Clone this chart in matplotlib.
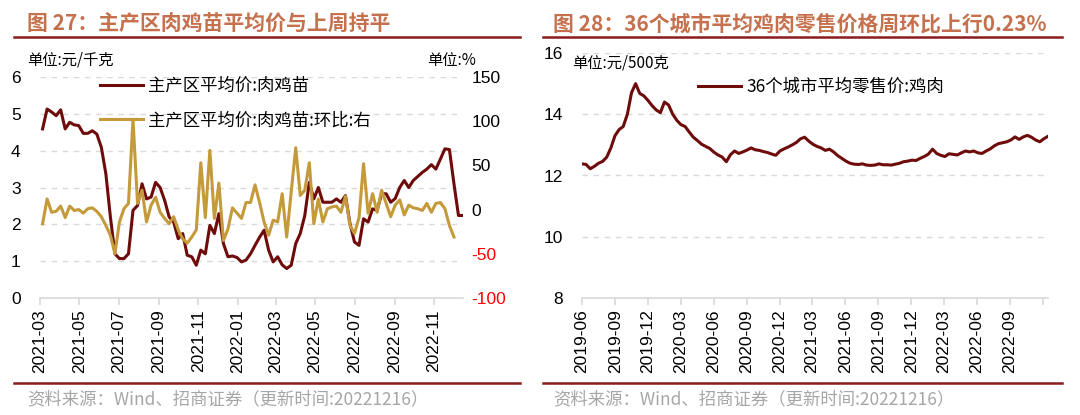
import pandas as pd
import matplotlib.pyplot as plt
import matplotlib.dates as mdates
from matplotlib.lines import Line2D

plt.rcParams['font.family'] = ['Liberation Sans', 'Noto Sans CJK SC', 'DejaVu Sans']
plt.rcParams['axes.unicode_minus'] = False

# 图27: 主产区肉鸡苗平均价 (元/千克) 及环比 (%), 周度
chick_price = [
    4.59, 5.13, 5.05, 4.95, 5.11, 4.59, 4.77, 4.70, 4.68, 4.47,
    4.47, 4.54, 4.45, 4.09, 3.37, 2.20, 1.20, 1.07, 1.07, 1.20,
    2.38, 2.51, 3.10, 2.69, 2.74, 3.14, 3.00, 2.65, 2.20, 2.06,
    1.61, 1.75, 1.16, 1.12, 0.89, 1.30, 1.20, 1.97, 1.75, 2.29,
    1.48, 1.12, 1.14, 1.10, 0.98, 1.03, 1.20, 1.43, 1.65, 1.84,
    1.30, 0.98, 1.12, 0.90, 0.80, 0.89, 1.48, 1.75, 2.24, 3.14,
    2.69, 3.00, 2.60, 2.60, 2.60, 2.69, 2.60, 2.78, 2.02, 1.52,
    1.43, 2.15, 2.06, 2.42, 2.38, 2.83, 2.83, 2.60, 2.70, 3.00,
    3.19, 3.00, 3.19, 3.30, 3.41, 3.50, 3.62, 3.50, 3.77, 4.05,
    4.03, 3.10, 2.24, 2.24,
]
chick_wow = [
    -16, 12, -3, -2, 4, -9, 4, -1, 0, -4,
    1, 2, -2, -8, -18, -29, -50, -14, 1, 7,
    102, 7, 22, -14, 5, 14, -3, -10, -16, -8,
    -23, -33, -38, -31, -23, 53, -9, 67, -10, 30,
    -35, -22, 2, -4, -10, 8, 8, 28, 8, -14,
    -29, -12, -14, 18, -31, 20, 70, 16, 22, 53,
    -16, 12, -14, 1, 3, 4, -3, 15, -18, -27,
    -9, 52, -4, 18, -3, 22, 7, -8, 5, 11,
    -6, 5, 2, 1, -1, 7, -3, 7, 8, 1,
    -18, -31,
]
chick_dates = pd.date_range(end='2022-12-16', periods=len(chick_price), freq='7D')

# 图28: 36个城市平均零售价:鸡肉 (元/500克)
retail_price = [
    12.38, 12.36, 12.22, 12.30, 12.40, 12.46, 12.60, 12.90, 13.30, 13.50,
    13.60, 14.00, 14.70, 15.00, 14.68, 14.60, 14.45, 14.28, 14.14, 14.05,
    14.40, 14.30, 14.00, 13.80, 13.66, 13.60, 13.42, 13.25, 13.14, 13.02,
    12.95, 12.88, 12.76, 12.67, 12.60, 12.45, 12.68, 12.80, 12.72, 12.77,
    12.83, 12.90, 12.84, 12.82, 12.78, 12.75, 12.70, 12.66, 12.80, 12.87,
    12.93, 13.00, 13.08, 13.20, 13.25, 13.12, 13.02, 12.95, 12.90, 12.82,
    12.86, 12.77, 12.65, 12.56, 12.47, 12.40, 12.37, 12.36, 12.38, 12.34,
    12.33, 12.34, 12.38, 12.35, 12.35, 12.34, 12.37, 12.40, 12.45, 12.47,
    12.50, 12.49, 12.56, 12.62, 12.70, 12.86, 12.72, 12.66, 12.62, 12.71,
    12.69, 12.67, 12.74, 12.80, 12.77, 12.80, 12.74, 12.72, 12.80, 12.87,
    12.97, 13.04, 13.07, 13.10, 13.16, 13.26, 13.18, 13.26, 13.31, 13.25,
    13.16, 13.10, 13.20, 13.28,
]
retail_dates = pd.date_range('2019-06-01', '2022-12-16', periods=len(retail_price))

DARK = '#6e0b0b'
GOLD = '#c49a3a'
TITLE = '#c5714d'
RULE = '#8b1c1c'
GRID = '#d9d9d9'
FOOT = '#a6a6a6'
CJK = ['Noto Sans CJK SC', 'Liberation Sans']

fig = plt.figure(figsize=(10.8, 4.15), dpi=100)


def px(x, y):
    return x / 1080, 1 - y / 415


def style_axis(ax):
    for s in ['top', 'left', 'right']:
        ax.spines[s].set_visible(False)
    ax.spines['bottom'].set_color(GRID)
    ax.spines['bottom'].set_linewidth(1.2)
    ax.grid(axis='y', color=GRID, linestyle=(0, (4, 4)), linewidth=1)
    ax.tick_params(axis='y', length=0, labelsize=12.5)
    ax.tick_params(axis='x', length=5, color=GRID, width=1.2, labelsize=12.5,
                   labelrotation=90, pad=3)
    ax.set_axisbelow(True)


# ---- 左图 ----
ax1 = fig.add_axes([40 / 1080, 1 - 298 / 415, 423 / 1080, 221 / 415])
style_axis(ax1)
ax1.plot(chick_dates, chick_price, color=DARK, lw=2.2, label='主产区平均价:肉鸡苗')
ax1.set_ylim(0, 6)
ax1.set_yticks(range(0, 7))
ax1.tick_params(axis='y', pad=14)
ax1.set_xlim(pd.Timestamp('2021-03-01'), pd.Timestamp('2022-12-16'))
ax1.xaxis.set_major_locator(mdates.MonthLocator(bymonth=[1, 3, 5, 7, 9, 11]))
ax1.xaxis.set_major_formatter(mdates.DateFormatter('%Y-%m'))

ax2 = ax1.twinx()
for s in ['top', 'left', 'right', 'bottom']:
    ax2.spines[s].set_visible(False)
ax2.plot(chick_dates[:len(chick_wow)], chick_wow, color=GOLD, lw=2.2,
         label='主产区平均价:肉鸡苗:环比:右')
ax2.set_ylim(-100, 150)
ax2.set_yticks(range(-100, 151, 50))
ax2.tick_params(axis='y', length=0, labelsize=12.5, pad=6)
for t in ax2.get_yticklabels():
    if t.get_text().startswith(('-', '−')):
        t.set_color('#ff0000')

h1, l1 = ax1.get_legend_handles_labels()
h2, l2 = ax2.get_legend_handles_labels()
ax2.legend(h1 + h2, l1 + l2, loc='upper left', bbox_to_anchor=px(84, 61),
           bbox_transform=fig.transFigure, frameon=False, handlelength=2.5,
           handletextpad=0.3, labelspacing=0.95, prop={'family': CJK, 'size': 12.5})

fig.text(*px(27, 60), '单位:元/千克', family=CJK, fontsize=11, va='center')
fig.text(*px(476, 60), '单位:%', family=CJK, fontsize=11, va='center', ha='right')

# ---- 右图 ----
ax3 = fig.add_axes([582 / 1080, 1 - 298 / 415, 466 / 1080, 245 / 415])
style_axis(ax3)
ax3.plot(retail_dates, retail_price, color=DARK, lw=2.2, label='36个城市平均零售价:鸡肉')
ax3.set_ylim(8, 16)
ax3.set_yticks(range(8, 17, 2))
ax3.tick_params(axis='y', pad=14)
ax3.set_xlim(pd.Timestamp('2019-06-01'), pd.Timestamp('2022-12-16'))
ax3.xaxis.set_major_locator(mdates.MonthLocator(bymonth=[3, 6, 9, 12]))
ax3.xaxis.set_major_formatter(mdates.DateFormatter('%Y-%m'))
for t, d in zip(ax3.get_xticklabels(), ax3.get_xticks()):
    if mdates.num2date(d).strftime('%Y-%m') == '2022-12':
        t.set_visible(False)
ax3.legend(loc='upper left', bbox_to_anchor=px(682, 62), bbox_transform=fig.transFigure,
           frameon=False, handlelength=2.5, handletextpad=0.3,
           prop={'family': CJK, 'size': 12.5})
fig.text(*px(572, 63), '单位:元/500克', family=CJK, fontsize=11, va='center')

# ---- 标题、分隔线、来源 ----
fig.text(*px(27, 24), '图 27：主产区肉鸡苗平均价与上周持平', family=CJK, fontsize=15,
         fontweight='bold', color=TITLE, va='center')
fig.text(*px(553, 24), '图 28：36个城市平均鸡肉零售价格周环比上行0.23%', family=CJK,
         fontsize=15, fontweight='bold', color=TITLE, va='center')
for x0, x1 in [(14, 520), (543, 1062)]:
    for y in (37, 383):
        fig.add_artist(Line2D([x0 / 1080, x1 / 1080], [1 - y / 415] * 2,
                              color=RULE, lw=1.8))
src = '资料来源：Wind、招商证券（更新时间:20221216）'
fig.text(*px(27, 399), src, family=CJK, fontsize=12.5, color=FOOT, va='center')
fig.text(*px(553, 399), src, family=CJK, fontsize=12.5, color=FOOT, va='center')

fig.savefig('out.png', dpi=100)
